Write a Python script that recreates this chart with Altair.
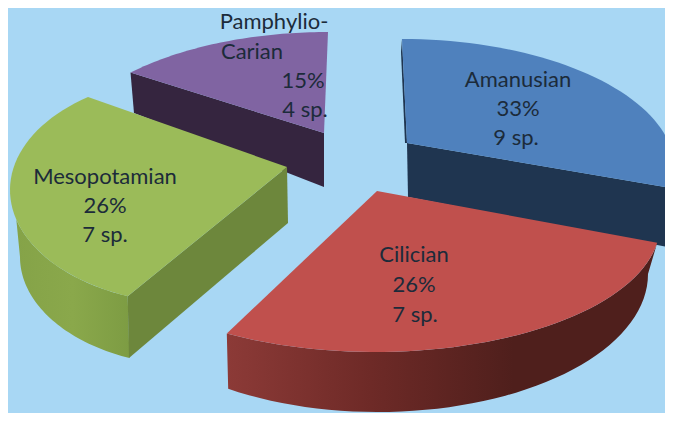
import math
import altair as alt

# ---- chart values ----
regions = ["Amanusian", "Cilician", "Mesopotamian", "Pamphylio-Carian"]
species = [9, 7, 7, 4]
percents = ["33%", "26%", "26%", "15%"]
label_lines = [["Amanusian", "33%", "9 sp."],
               ["Cilician", "26%", "7 sp."],
               ["Mesopotamian", "26%", "7 sp."],
               ["Pamphylio-", "Carian", "15%", "4 sp."]]

# ---- drawing geometry (page pixels) ----
OX, OY = 8, 8
total = sum(species)
shares = [s / total * 360 for s in species]
starts = [sum(shares[:i]) for i in range(4)]
persp = [(0, -22), (-22, -2), (-12, 18), (7, 0)]       # perspective warp of wedge edges
ellipse = [(402, 170, 273, 131), (375, 225, 285, 127), (195, 190, 185, 114), (328, 163, 273, 131)]
apex = [(407, 143), (377, 191), (287, 167), (324, 133)]
top_fill = ["#4f81bd", "#c0504d", "#9bbb59", "#8064a2"]
label_xy = [[(518, 80), (518, 109), (516, 138)],
            [(414, 255), (414, 285), (415, 315)],
            [(105, 177), (105, 206), (105, 235)],
            [(274, 22), (252, 52), (303, 81), (305, 110)]]


def arc(e, a0, a1, n=48):
    cx, cy, rx, ry = e
    out = []
    for k in range(n + 1):
        t = math.radians(a0 + (a1 - a0) * k / n)
        out.append((cx + rx * math.sin(t), cy - ry * math.cos(t)))
    return out


def shape(points):
    ring = [[x - OX, y - OY] for x, y in points]
    ring.append(ring[0])
    return {"type": "Feature", "properties": {}, "geometry": {"type": "Polygon", "coordinates": [ring]}}


def grad(*cols):
    stops = [alt.GradientStop(color=c, offset=i / (len(cols) - 1)) for i, c in enumerate(cols)]
    return alt.Gradient(gradient="linear", stops=stops, x1=0, x2=1, y1=0, y2=0)


def layer(points, fill):
    return alt.Chart(alt.InlineData(values=[shape(points)])).mark_geoshape(
        fill=fill, stroke=None, strokeWidth=0
    ).project(type="identity", scale=1, translate=[0, 0])


angles = [(starts[i] + persp[i][0], starts[i] + shares[i] + persp[i][1]) for i in range(4)]
top = [[apex[i]] + arc(ellipse[i], *angles[i]) for i in range(4)]

layers = []
# Pamphylio-Carian
a = arc(ellipse[3], *angles[3])
layers.append(layer([a[0], apex[3], (324, 187), (134, 113)], "#35253f"))
layers.append(layer(top[3], top_fill[3]))

# Mesopotamian
m = ellipse[2]
low = (195, 257, 175, 109)
layers.append(layer(arc(m, angles[2][0], 255) + arc(low, 270, 202), grad("#85a348", "#8aa84b", "#7d9c43")))
layers.append(layer([apex[2], (288, 223), (129, 358), arc(m, *angles[2])[0]], "#6d873c"))
layers.append(layer(top[2], top_fill[2]))

# Amanusian
a = arc(ellipse[0], *angles[0])
layers.append(layer([a[0], apex[0], (405, 143), (401, 52)], "#1f3550"))
layers.append(layer([apex[0], a[-1], (667, 247), (408, 197)], "#1f3550"))
layers.append(layer(top[0], top_fill[0]))

# Cilician
c = ellipse[1]
low = (378, 274, 270, 138)
layers.append(layer(arc(c, *angles[1]) + arc(low, 213.7, 90),
                    grad("#8c3a37", "#6e2a27", "#4f1f1c", "#4f1f1c")))
layers.append(layer(top[1], top_fill[1]))

# labels
rows = []
for i in range(4):
    for txt, (x, y) in zip(label_lines[i], label_xy[i]):
        rows.append({"t": txt, "x": x - OX, "y": y - OY})
labels = alt.Chart(alt.InlineData(values=rows)).mark_text(
    font="Lato", fontSize=22, color="#1c2b3a", align="center", baseline="middle"
).encode(
    x=alt.X("x:Q", scale=None, axis=None),
    y=alt.Y("y:Q", scale=None, axis=None),
    text="t:N",
)

chart = alt.layer(*layers, labels).properties(
    width=657, height=405, padding=0, autosize="none", background="#a8d7f4"
).configure_view(stroke=None)

chart.save("out.html", embed_options={"renderer": "svg", "actions": False})
